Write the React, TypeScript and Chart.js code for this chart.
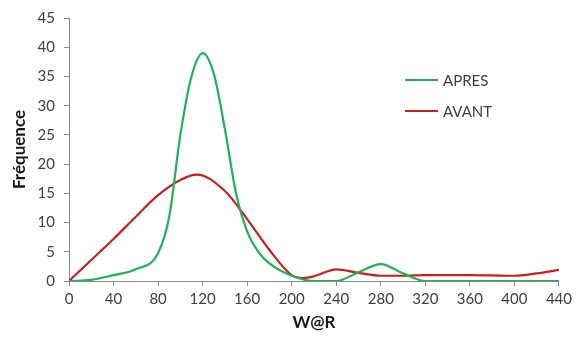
import React, { useEffect, useRef } from "react";
import { Chart, registerables } from "chart.js";

Chart.register(...registerables);

const APRES_X = [0, 20, 40, 60, 80, 90, 100, 110, 120, 130, 140, 150, 160, 170, 180, 200, 220, 240, 260, 280, 300, 320, 360, 400, 440];
const APRES = [0, 0.2, 1, 2, 4.8, 11, 25, 35, 39, 35.5, 26, 15, 8.5, 5, 3, 0.9, 0, 0, 1.5, 2.9, 1.3, 0, 0, 0, 0];
const AVANT_X = [0, 20, 40, 60, 80, 100, 115, 140, 160, 180, 200, 210, 220, 240, 260, 280, 300, 320, 340, 360, 380, 400, 420, 440];
const AVANT = [0, 3.6, 7.2, 11, 14.7, 17.3, 18.2, 15.4, 10.6, 5.3, 1, 0.5, 0.8, 2, 1.4, 0.9, 0.9, 1, 1, 1, 0.95, 0.9, 1.3, 1.9];
const SERIES_NAMES = ["APRES", "AVANT"];
const SERIES_COLORS = ["#1DB355", "#C8201F"];
const X_TICKS = { min: 0, max: 440, step: 40 };
const Y_TICKS = { min: 0, max: 45, step: 5 };
const X_TITLE = "W@R";
const Y_TITLE = "Fréquence";

const FONT = "Lato, 'Open Sans', sans-serif";
const AXIS_COLOR = "#898989";
const TEXT_COLOR = "#404040";

const legendPlugin = {
  id: "insideLegend",
  afterDatasetsDraw(chart: any) {
    const ctx = chart.ctx;
    const area = chart.chartArea;
    const x0 = area.left + 336;
    const y0 = area.top + 62;
    ctx.save();
    ctx.font = `15px ${FONT}`;
    ctx.textBaseline = "middle";
    ctx.textAlign = "left";
    chart.data.datasets.forEach((ds: any, i: number) => {
      const y = y0 + i * 31;
      ctx.strokeStyle = ds.borderColor;
      ctx.lineWidth = 2;
      ctx.beginPath();
      ctx.moveTo(x0, y);
      ctx.lineTo(x0 + 33, y);
      ctx.stroke();
      ctx.fillStyle = TEXT_COLOR;
      ctx.fillText(ds.label, x0 + 38, y + 1);
    });
    ctx.restore();
  },
};

export default function App() {
  const canvasRef = useRef<HTMLCanvasElement | null>(null);

  useEffect(() => {
    document.body.style.margin = "0";
    const canvas = canvasRef.current;
    if (!canvas) return;
    const series = [
      { xs: APRES_X, ys: APRES },
      { xs: AVANT_X, ys: AVANT },
    ];
    const chart = new Chart(canvas, {
      type: "line",
      data: {
        datasets: series.map((s, i) => ({
          label: SERIES_NAMES[i],
          data: s.xs.map((x, j) => ({ x, y: s.ys[j] })),
          borderColor: SERIES_COLORS[i],
          backgroundColor: SERIES_COLORS[i],
          borderWidth: 2.2,
          pointRadius: 0,
          cubicInterpolationMode: "monotone",
          fill: false,
        })),
      },
      options: {
        responsive: false,
        animation: false,
        layout: { padding: { top: 17, right: 15, bottom: 0, left: 0 } },
        plugins: {
          legend: { display: false },
          tooltip: { enabled: false },
        },
        scales: {
          x: {
            type: "linear",
            min: X_TICKS.min,
            max: X_TICKS.max,
            afterFit: (s: any) => {
              s.height = 58;
            },
            ticks: {
              stepSize: X_TICKS.step,
              color: TEXT_COLOR,
              font: { family: FONT, size: 15 },
              padding: 4,
              maxRotation: 0,
            },
            grid: {
              display: true,
              drawOnChartArea: false,
              drawTicks: true,
              tickLength: 5,
              color: AXIS_COLOR,
            },
            border: { display: true, color: AXIS_COLOR, width: 1 },
            title: {
              display: true,
              text: X_TITLE,
              color: "#1a1a1a",
              font: { family: FONT, size: 17, weight: "bold" },
              padding: { top: 0, bottom: 6 },
            },
          },
          y: {
            min: Y_TICKS.min,
            max: Y_TICKS.max,
            afterFit: (s: any) => {
              s.width = 69;
            },
            ticks: {
              stepSize: Y_TICKS.step,
              color: TEXT_COLOR,
              font: { family: FONT, size: 15 },
              padding: 9,
            },
            grid: {
              display: true,
              drawOnChartArea: false,
              drawTicks: true,
              tickLength: 5,
              color: AXIS_COLOR,
            },
            border: { display: true, color: AXIS_COLOR, width: 1 },
            title: {
              display: true,
              text: Y_TITLE,
              color: "#1a1a1a",
              font: { family: FONT, size: 17, weight: "bold" },
              padding: { top: 9, bottom: 0 },
            },
          },
        },
      },
      plugins: [legendPlugin],
    });
    return () => chart.destroy();
  }, []);

  return (
    <div style={{ width: 576, height: 339 }}>
      <canvas ref={canvasRef} width={576} height={339} style={{ display: "block" }} />
    </div>
  );
}
